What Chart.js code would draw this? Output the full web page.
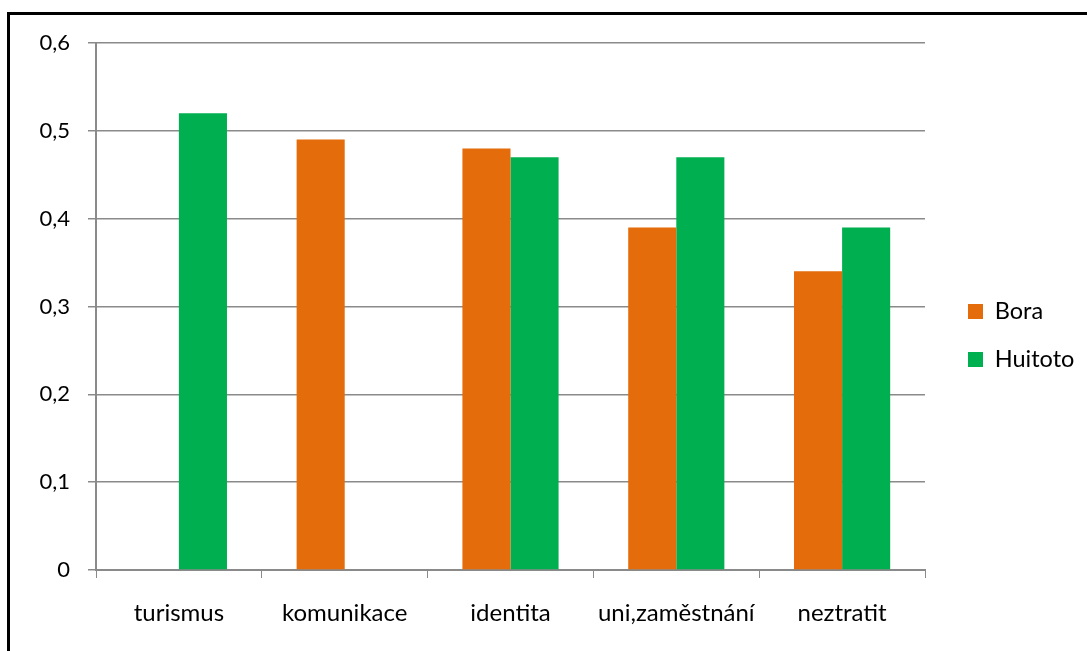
<!DOCTYPE html>
<html>
<head>
<meta charset="utf-8">
<script src="https://cdn.jsdelivr.net/npm/chart.js@4/dist/chart.umd.min.js"></script>
<style>
  html, body { margin: 0; padding: 0; background: #fff; overflow: hidden; }
  #frame { position: absolute; left: 7px; top: 12px; width: 1200px; height: 800px;
           border-left: 3px solid #000; border-top: 3px solid #000; }
  #wrap { position: absolute; left: 0; top: 0; width: 1087px; height: 651px; }
</style>
</head>
<body>
<div id="frame"></div>
<div id="wrap"><canvas id="chart"></canvas></div>
<script>
// hodnoty
const categories = ['turismus', 'komunikace', 'identita', 'uni,zaměstnání', 'neztratit'];
const boraValues = [null, 0.49, 0.48, 0.39, 0.34];
const huitotoValues = [0.52, null, 0.47, 0.47, 0.39];
const yTicks = [0, 0.1, 0.2, 0.3, 0.4, 0.5, 0.6];

const FONT = 'Lato, Carlito, Calibri, sans-serif';
const GRID = '#8a8a8a';

// legenda: pevná šířka a posun jako v Excelu
const legendPlace = {
    id: 'legendPlace',
    afterInit(chart) {
        const lg = chart.legend;
        if (!lg) return;
        const origFit = lg.fit.bind(lg);
        lg.fit = function () {
            origFit();
            this.width = 162;
        };
    },
    afterLayout(chart) {
        const lg = chart.legend;
        if (!lg) return;
        lg.left += 18.5;
        lg.right += 18.5;
        lg.top -= 11.5;
        lg.bottom -= 11.5;
    }
};

const ctx = document.getElementById('chart').getContext('2d');
new Chart(ctx, {
    type: 'bar',
    data: {
        labels: categories,
        datasets: [
            { label: 'Bora', data: boraValues, backgroundColor: '#E46C0A', categoryPercentage: 0.58, barPercentage: 1 },
            { label: 'Huitoto', data: huitotoValues, backgroundColor: '#00B050', categoryPercentage: 0.58, barPercentage: 1 }
        ]
    },
    options: {
        responsive: true,
        maintainAspectRatio: false,
        animation: false,
        layout: { padding: { left: 0, top: 43, right: 0, bottom: 0 } },
        plugins: {
            tooltip: { enabled: false },
            legend: {
                position: 'right',
                labels: { color: '#000', font: { family: FONT, size: 23.5 }, boxWidth: 15, boxHeight: 15, padding: 24.5 }
            }
        },
        scales: {
            x: {
                grid: { color: GRID, drawOnChartArea: false, tickLength: 8, offset: true },
                border: { color: GRID, width: 2 },
                ticks: { color: '#000', font: { family: FONT, size: 24 }, padding: 21, maxRotation: 0 },
                afterFit: (scale) => { scale.height = 81; }
            },
            y: {
                min: 0,
                max: 0.6,
                afterBuildTicks: (scale) => { scale.ticks = yTicks.map(v => ({ value: v })); },
                grid: { color: GRID, lineWidth: 1.5, tickLength: 8 },
                border: { color: GRID, width: 2 },
                ticks: {
                    color: '#000',
                    font: { family: FONT, size: 22 },
                    padding: 18,
                    callback: (v) => String(Math.round(v * 10) / 10).replace('.', ',')
                },
                afterFit: (scale) => { scale.width = 96; }
            }
        }
    },
    plugins: [legendPlace]
});
</script>
</body>
</html>
